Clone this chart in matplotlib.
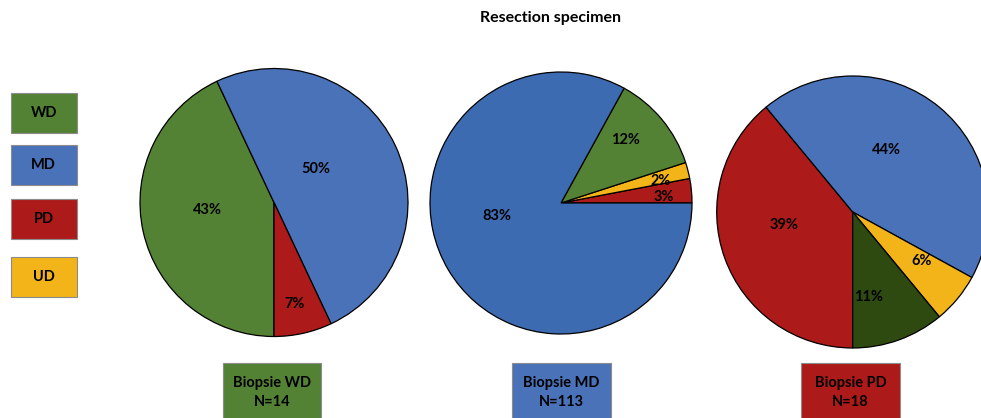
import numpy as np
import matplotlib
matplotlib.use("Agg")
import matplotlib.pyplot as plt
from matplotlib.patches import Rectangle

plt.rcParams['font.family'] = ['Lato', 'DejaVu Sans']

# grade categories and colours
categories = ["WD", "MD", "PD", "UD"]
cat_colors = {"WD": "#548235", "MD": "#4a72b9", "PD": "#ad1a1a", "UD": "#f2b418"}

# resection grade (%) per biopsy group, in drawing order
pie1_cats = ["WD", "MD", "PD"]
pie1_vals = [43, 50, 7]
pie2_cats = ["PD", "UD", "WD", "MD"]
pie2_vals = [3, 2, 12, 83]
pie3_cats = ["PD", "MD", "UD", "WD"]
pie3_vals = [39, 44, 6, 11]

biopsy_titles = ["Biopsie WD", "Biopsie MD", "Biopsie PD"]
biopsy_n = [14, 113, 18]

W, H = 981, 418
fig = plt.figure(figsize=(W / 100, H / 100), dpi=100)
ax = fig.add_axes([0, 0, 1, 1])

def Y(y):
    # pixel row -> data y
    return H - y

# center, radius, startangle, direction, colour overrides,
# label radius fraction and angle nudge per slice
pies = [
    dict(cats=pie1_cats, vals=pie1_vals, c=(274, 202.5), r=134, start=270, ccw=False,
         colors=None, frac=[0.50, 0.40, 0.77], nudge=[-6, 14, -1]),
    dict(cats=pie2_cats, vals=pie2_vals, c=(561, 203), r=131, start=0, ccw=True,
         colors={"MD": "#3d6bb2"}, frac=[0.79, 0.78, 0.69, 0.50], nudge=[-2, -2, 5, -19]),
    dict(cats=pie3_cats, vals=pie3_vals, c=(852.7, 212), r=136, start=270, ccw=False,
         colors={"WD": "#2e4a10"}, frac=[0.51, 0.52, 0.62, 0.64], nudge=[-9, 11, 4, -9]),
]

FS = 10.5

for p in pies:
    cols = []
    for k in p["cats"]:
        if p["colors"] and k in p["colors"]:
            cols.append(p["colors"][k])
        else:
            cols.append(cat_colors[k])
    cx, cy = p["c"][0], Y(p["c"][1])
    wedges, _ = ax.pie(p["vals"], colors=cols, center=(cx, cy), radius=p["r"],
                       startangle=p["start"], counterclock=p["ccw"],
                       wedgeprops=dict(edgecolor="black", linewidth=0.9))
    for w, v, f, n in zip(wedges, p["vals"], p["frac"], p["nudge"]):
        a = np.deg2rad((w.theta1 + w.theta2) / 2 + n)
        ax.text(cx + f * p["r"] * np.cos(a), cy + f * p["r"] * np.sin(a), f"{v}%",
                ha="center", va="center", fontsize=FS, fontweight="bold", color="black")

# legend boxes
legend_tops = [92.7, 145, 199, 256.7]
for k, top in zip(categories, legend_tops):
    ax.add_patch(Rectangle((10.7, Y(top + 40)), 66, 40, facecolor=cat_colors[k],
                           edgecolor="#8c8c8c", linewidth=0.8))
    ax.text(10.7 + 33, Y(top + 20), k, ha="center", va="center",
            fontsize=FS, fontweight="bold", color="black")

# biopsy group boxes under each pie
box_left = [222.7, 512.3, 801.3]
box_colors = [cat_colors["WD"], cat_colors["MD"], cat_colors["PD"]]
for x0, t, n, col in zip(box_left, biopsy_titles, biopsy_n, box_colors):
    ax.add_patch(Rectangle((x0, Y(430)), 98.5, 430 - 362.5, facecolor=col,
                           edgecolor="#8c8c8c", linewidth=0.8))
    ax.text(x0 + 49.25, Y(383), t, ha="center", va="center",
            fontsize=FS, fontweight="bold", color="black")
    ax.text(x0 + 49.25, Y(401.5), f"N={n}", ha="center", va="center",
            fontsize=FS, fontweight="bold", color="black")

ax.text(550, Y(18), "Resection specimen", ha="center", va="center",
        fontsize=11.5, fontweight="bold", color="black")

ax.set_xlim(0, W)
ax.set_ylim(0, H)
ax.set_aspect("equal")
ax.axis("off")

fig.savefig("out.png", dpi=100, facecolor="white")
